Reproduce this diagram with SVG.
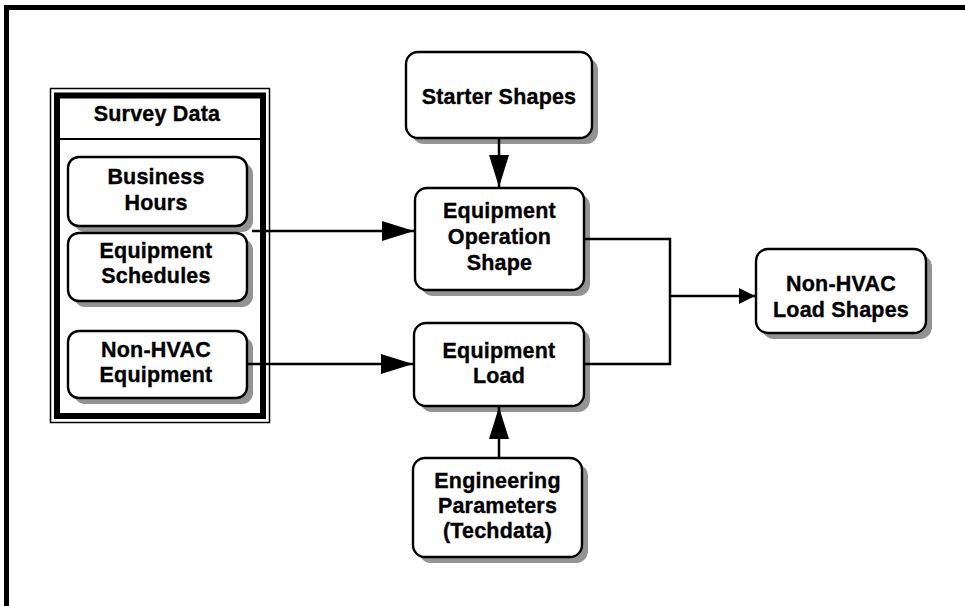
<svg xmlns="http://www.w3.org/2000/svg" width="965" height="606" viewBox="0 0 965 606">
  <style>
    .box { fill: #ffffff; stroke: #000000; stroke-width: 2.4; }
    .shadow { fill: #939393; stroke: none; }
    .lbl { font-family: "Liberation Sans", Arial, sans-serif; font-weight: bold; font-size: 21.5px; fill: #000000; stroke: #000000; stroke-width: 0.35; text-anchor: middle; letter-spacing: 0.2px; }
    .wire { fill: none; stroke: #000000; stroke-width: 2.5; }
  </style>
  <defs>
    <marker id="ahBig" markerUnits="userSpaceOnUse" markerWidth="32" markerHeight="20" refX="32" refY="10" orient="auto">
      <path d="M0,0 L32,10 L0,20 Z" fill="#000000"/>
    </marker>
    <marker id="ahSmall" markerUnits="userSpaceOnUse" markerWidth="16" markerHeight="16" refX="16" refY="8" orient="auto">
      <path d="M0,0 L16,8 L0,16 Z" fill="#000000"/>
    </marker>
  </defs>

  <rect x="0" y="0" width="965" height="606" fill="#ffffff"/>
  <!-- page frame, running off the right and bottom edges -->
  <rect x="6.5" y="7.5" width="1000" height="700" fill="none" stroke="#000000" stroke-width="5"/>

  <!-- Survey Data container -->
  <g id="survey-data">
    <rect x="50.5" y="88.5" width="219" height="334" fill="#ffffff" stroke="#000000" stroke-width="1.5"/>
    <rect x="57" y="95.5" width="206" height="320.5" fill="#ffffff" stroke="#000000" stroke-width="6"/>
    <line x1="60" y1="139" x2="260" y2="139" stroke="#000000" stroke-width="2"/>
    <text class="lbl" x="157" y="121">Survey Data</text>
  </g>

  <g id="business-hours">
    <rect class="shadow" x="74" y="163" width="179" height="69" rx="11"/>
    <rect class="box" x="68" y="157" width="179" height="69" rx="11"/>
    <text class="lbl" x="156" y="184">Business</text>
    <text class="lbl" x="156" y="210">Hours</text>
  </g>

  <g id="equipment-schedules">
    <rect class="shadow" x="74" y="239" width="179" height="68" rx="11"/>
    <rect class="box" x="68" y="233" width="179" height="68" rx="11"/>
    <text class="lbl" x="156" y="258">Equipment</text>
    <text class="lbl" x="156" y="283">Schedules</text>
  </g>

  <g id="non-hvac-equipment">
    <rect class="shadow" x="74" y="337" width="179" height="67" rx="11"/>
    <rect class="box" x="68" y="331" width="179" height="67" rx="11"/>
    <text class="lbl" x="156" y="357">Non-HVAC</text>
    <text class="lbl" x="156" y="382">Equipment</text>
  </g>

  <g id="starter-shapes">
    <rect class="shadow" x="412" y="58" width="186" height="86" rx="12"/>
    <rect class="box" x="406" y="52" width="186" height="86" rx="12"/>
    <text class="lbl" x="499" y="104">Starter Shapes</text>
  </g>

  <g id="equipment-operation-shape">
    <rect class="shadow" x="421" y="194" width="169" height="102" rx="12"/>
    <rect class="box" x="415" y="188" width="169" height="102" rx="12"/>
    <text class="lbl" x="499.5" y="218">Equipment</text>
    <text class="lbl" x="499.5" y="244">Operation</text>
    <text class="lbl" x="499.5" y="270">Shape</text>
  </g>

  <g id="equipment-load">
    <rect class="shadow" x="420" y="329" width="170" height="83" rx="12"/>
    <rect class="box" x="414" y="323" width="170" height="83" rx="12"/>
    <text class="lbl" x="499" y="358">Equipment</text>
    <text class="lbl" x="499" y="383">Load</text>
  </g>

  <g id="engineering-parameters">
    <rect class="shadow" x="419" y="464" width="169" height="99" rx="12"/>
    <rect class="box" x="413" y="458" width="169" height="99" rx="12"/>
    <text class="lbl" x="497.5" y="488">Engineering</text>
    <text class="lbl" x="497.5" y="513">Parameters</text>
    <text class="lbl" x="497.5" y="538">(Techdata)</text>
  </g>

  <g id="non-hvac-load-shapes">
    <rect class="shadow" x="762" y="255" width="170" height="84" rx="12"/>
    <rect class="box" x="756" y="249" width="170" height="84" rx="12"/>
    <text class="lbl" x="841" y="291">Non-HVAC</text>
    <text class="lbl" x="841" y="317">Load Shapes</text>
  </g>

  <g id="connectors">
    <line class="wire" x1="499" y1="138" x2="499" y2="187" marker-end="url(#ahBig)"/>
    <line class="wire" x1="252" y1="231" x2="414" y2="231" marker-end="url(#ahBig)"/>
    <line class="wire" x1="248" y1="364" x2="413" y2="364" marker-end="url(#ahBig)"/>
    <line class="wire" x1="499" y1="458" x2="499" y2="407" marker-end="url(#ahBig)"/>
    <polyline class="wire" points="585,239 670,239 670,364 585,364"/>
    <line class="wire" x1="670" y1="296" x2="755" y2="296" marker-end="url(#ahSmall)"/>
  </g>
</svg>
